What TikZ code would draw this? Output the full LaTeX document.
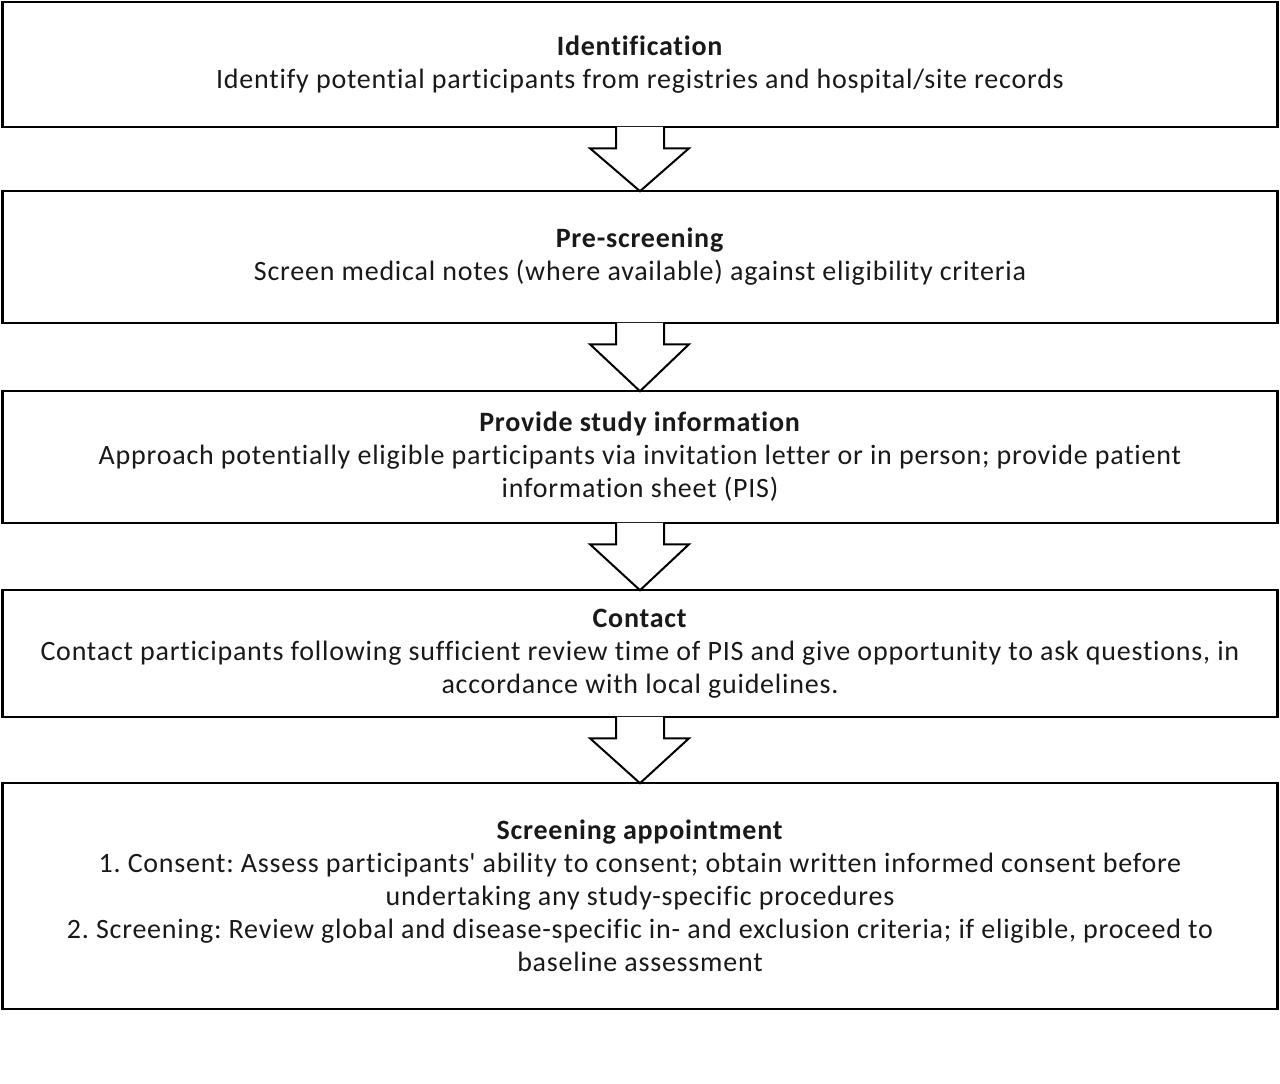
\documentclass[tikz,border=0pt]{standalone}
\usepackage{fontspec}
\setmainfont{Carlito}[Ligatures={NoCommon}, LetterSpace=2.8]
\usetikzlibrary{calc}
\tikzset{
  box/.style={draw=black, line width=2.6pt, fill=white, minimum width=1275pt, inner sep=0pt, align=center,
    font=\fontsize{28}{33}\selectfont, text=black!90},
  blockarrow/.style={draw=black, line width=2pt, fill=white, line join=miter},
}
\newcommand{\ttl}[1]{\textbf{#1}}
\begin{document}
\frenchspacing
\begin{tikzpicture}[x=1pt,y=-1pt]
\useasboundingbox (0,0) rectangle (1280,1084);
\node[box, minimum height=125pt] (b1) at (640,64.5) {\ttl{Identification}\\Identify potential participants from registries and hospital/site records};
\node[box, minimum height=132pt] (b2) at (640,257) {\ttl{Pre-screening}\\Screen medical notes (where available) against eligibility criteria};
\node[box, minimum height=132pt] (b3) at (640,457) {\ttl{Provide study information}\\Approach potentially eligible participants via invitation letter or in person; provide patient\\information sheet (PIS)};
\node[box, minimum height=127pt] (b4) at (640,653.5) {\ttl{Contact}\\Contact participants following sufficient review time of PIS and give opportunity to ask questions, in\\accordance with local guidelines.};
\node[box, minimum height=226pt] (b5) at (640,896) {\ttl{Screening appointment}\\1. Consent: Assess participants\textquotesingle{} ability to consent; obtain written informed consent before\\undertaking any study-specific procedures\\2. Screening: Review global and disease-specific in- and exclusion criteria; if eligible, proceed to\\baseline assessment};
\foreach \a/\b in {b1/b2, b2/b3, b3/b4, b4/b5}{
  \draw[blockarrow] ($(\a.south)+(-24,-1.5)$) -- ($(\a.south)+(-24,20)$) -- ($(\a.south)+(-50,20)$)
     -- ($(\b.north)+(0,1.5)$) -- ($(\a.south)+(49,20)$) -- ($(\a.south)+(24,20)$) -- ($(\a.south)+(24,-1.5)$);
}
\end{tikzpicture}
\end{document}
